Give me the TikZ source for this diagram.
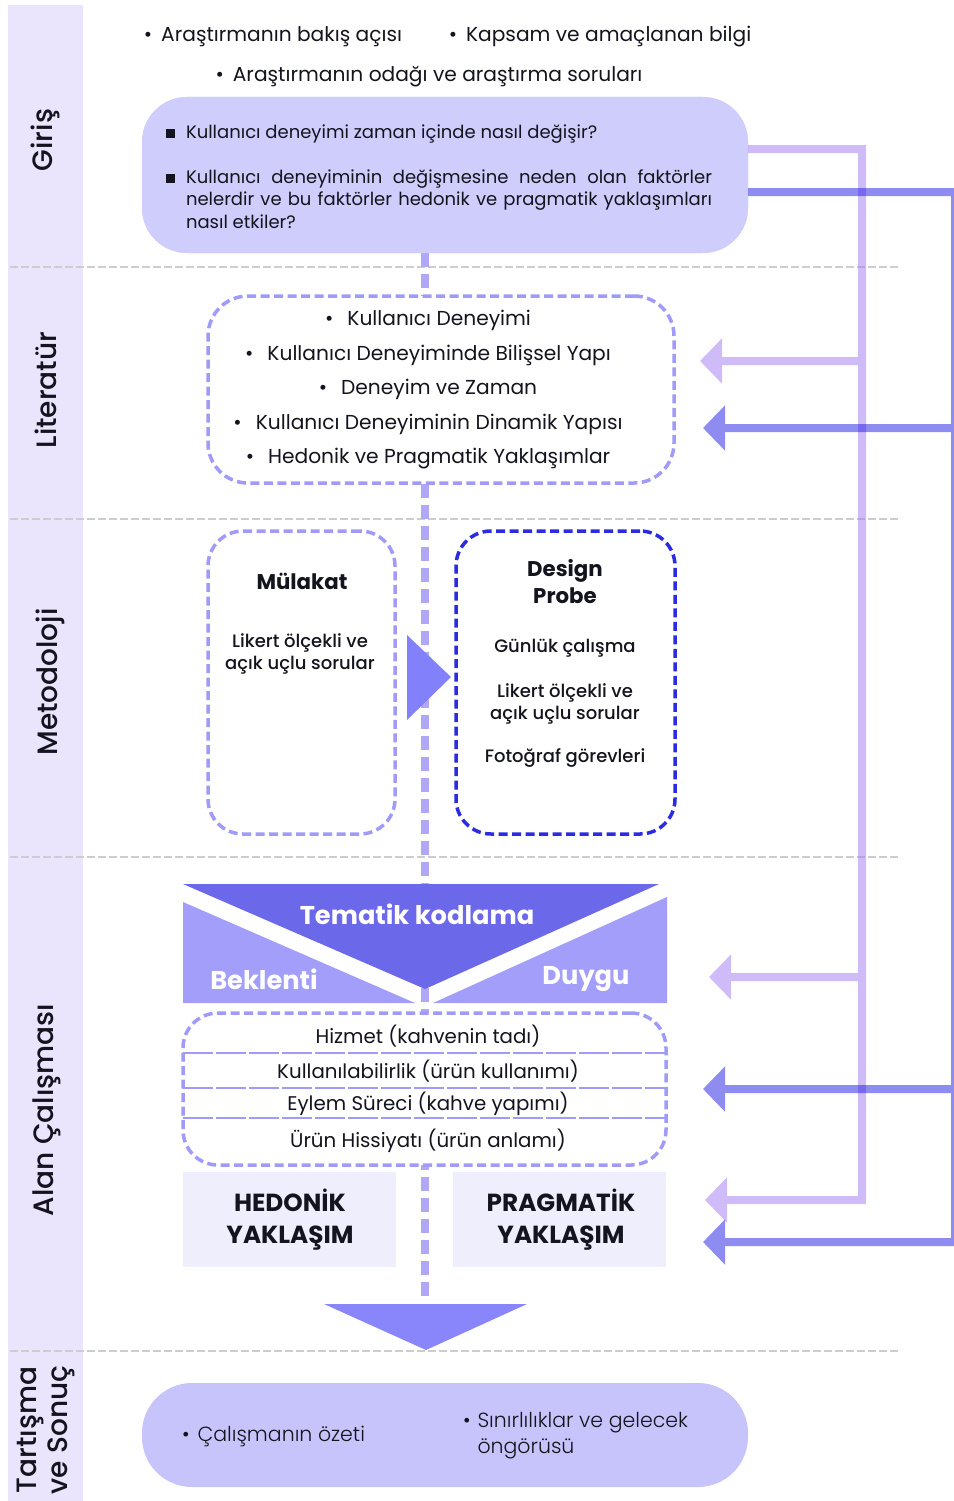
\documentclass[tikz,border=0pt]{standalone}
\usepackage{fontspec}
\setmainfont{Poppins}
\newfontfamily\medfont{Poppins Medium}
\newfontfamily\lightfont{Poppins Light}
\usetikzlibrary{arrows.meta}

\definecolor{ink}{RGB}{20,20,30}
\definecolor{strip}{RGB}{234,228,253}
\definecolor{sepgray}{RGB}{205,205,205}
\definecolor{qbox}{RGB}{206,205,251}
\definecolor{endbox}{RGB}{198,196,250}
\definecolor{dashlav}{RGB}{160,154,248}
\definecolor{dashblue}{RGB}{43,43,225}
\definecolor{spinec}{RGB}{176,168,247}
\definecolor{tridark}{RGB}{108,104,234}
\definecolor{trilight}{RGB}{162,158,250}
\definecolor{playtri}{RGB}{130,128,250}
\definecolor{downtri}{RGB}{137,133,250}
\definecolor{approach}{RGB}{239,238,252}
\definecolor{fbviolet}{RGB}{160,120,240}
\definecolor{fbblue}{RGB}{30,25,225}

\newcommand{\fsz}[2]{\fontsize{#1}{#2}\selectfont}

\begin{document}
\begin{tikzpicture}[x=1pt,y=-1pt,
  every node/.style={inner sep=0pt, outer sep=0pt, text=ink},
  sidelabel/.style={rotate=90, font=\medfont\fsz{28}{31}, align=center},
  toptext/.style={font=\fsz{20.2}{24}},
  qtext/.style={font=\fsz{18}{22.5}},
  littext/.style={font=\fsz{20.2}{34.5}, align=center},
  headtext/.style={font=\bfseries\fsz{21.3}{27}, align=center},
  bodytext/.style={font=\medfont\fsz{18}{22}, align=center},
  whitehead/.style={font=\bfseries\fsz{25.7}{30}, text=white},
  itemtext/.style={font=\fsz{19.8}{22}},
  apptext/.style={font=\bfseries\fsz{24.7}{32}, align=center},
  endtext/.style={font=\lightfont\fsz{20.5}{26}},
  qbubble/.style={fill=qbox, rounded corners=45pt},
  dashbox/.style={draw=dashlav, line width=3.5pt, dash pattern=on 9pt off 4.5pt, fill=white},
  probebox/.style={dashbox, draw=dashblue},
  appbox/.style={fill=approach},
  separator/.style={draw=sepgray, line width=2pt, dash pattern=on 8pt off 3pt},
  spine/.style={draw=spinec, line width=8pt, dash pattern=on 14pt off 7pt},
  divider/.style={draw=dashlav, line width=1.5pt, dash pattern=on 30pt off 3pt},
  fbl/.style={draw=fbviolet, line width=8pt},
  fbd/.style={draw=fbblue, line width=8pt},
  fbtip/.style={-{Triangle[length=22pt,width=44pt]}}
]
\path[use as bounding box] (0,0) rectangle (953,1501);

% section strip on the left
\fill[strip] (8,5) rectangle (83,1501);

% section separators
\foreach \yy in {267,519,857,1351}
  \draw[separator] (10,\yy) -- (900,\yy);

% section titles
\node[sidelabel] (lgiris) at (45,140) {Giriş};
\node[sidelabel] (llit) at (46,390) {Literatür};
\node[sidelabel] (lmet) at (50,682) {Metodoloji};
\node[sidelabel] (lalan) at (47,1110) {Alan Çalışması};
\node[sidelabel] (lson) at (46,1430) {Tartışma\\ve Sonuç};

% introduction bullets
\node[toptext] (b1) at (273,37) {\textbullet\hspace{9pt}Araştırmanın bakış açısı};
\node[toptext] (b2) at (600,37) {\textbullet\hspace{9pt}Kapsam ve amaçlanan bilgi};
\node[toptext] (b3) at (429,77) {\textbullet\hspace{9pt}Araştırmanın odağı ve araştırma soruları};

% central spine
\coordinate (spineend) at (425,1298);
\node[qbubble, minimum width=606pt, minimum height=156pt] (giris) at (445,175) {};
\draw[spine] (giris.south -| spineend) -- (spineend);
\fill[qbox, rounded corners=45pt] (142,97) rectangle (748,253);

% research questions
\node[qtext, anchor=west] (q1) at (166,134)
  {\rule{9pt}{9pt}\hspace{11pt}Kullanıcı deneyimi zaman içinde nasıl değişir?};
\node[qtext, anchor=west] (q2a) at (166,179)
  {\rule{9pt}{9pt}\hspace{11pt}\makebox[526pt][s]{Kullanıcı deneyiminin değişmesine neden olan faktörler}};
\node[qtext, anchor=west] (q2b) at (186,201)
  {\makebox[526pt][s]{nelerdir ve bu faktörler hedonik ve pragmatik yaklaşımları}};
\node[qtext, anchor=west] (q2c) at (186,222) {nasıl etkiler?};

% literature
\node[dashbox, rounded corners=40pt, minimum width=466pt, minimum height=187pt] (lit) at (441,389.5) {};
\node[littext] (littx) at (428,390)
  {\textbullet\hspace{14pt}Kullanıcı Deneyimi\\
   \textbullet\hspace{14pt}Kullanıcı Deneyiminde Bilişsel Yapı\\
   \textbullet\hspace{14pt}Deneyim ve Zaman\\
   \textbullet\hspace{14pt}Kullanıcı Deneyiminin Dinamik Yapısı\\
   \textbullet\hspace{14pt}Hedonik ve Pragmatik Yaklaşımlar};

% methodology
\node[dashbox, rounded corners=35pt, minimum width=187pt, minimum height=303pt] (mul) at (301.5,682.5) {};
\node[probebox, rounded corners=35pt, minimum width=219pt, minimum height=303pt] (probe) at (565.5,682.5) {};
\node[headtext] (mulh) at (302,581) {Mülakat};
\node[bodytext] (mulb) at (300,654) {Likert ölçekli ve\\açık uçlu sorular};
\node[headtext] (probeh) at (565,582) {Design\\Probe};
\node[bodytext] (pb1) at (565,648) {Günlük çalışma};
\node[bodytext] (pb2) at (565,704) {Likert ölçekli ve\\açık uçlu sorular};
\node[bodytext] (pb3) at (565,758) {Fotoğraf görevleri};
\fill[playtri] (407,635) -- (451,677) -- (407,720) -- cycle;

% thematic coding funnel
\fill[trilight] (183,902) -- (415,1003) -- (183,1003) -- cycle;
\fill[trilight] (667,897) -- (667,1003) -- (433,1003) -- cycle;
\fill[tridark] (183,884) -- (659,884) -- (425,989) -- cycle;
\node[whitehead] (tema) at (417,914) {Tematik kodlama};
\node[whitehead] (bek) at (264,979) {Beklenti};
\node[whitehead] (duy) at (586,979) {Duygu};

% coding categories
\node[dashbox, rounded corners=35pt, minimum width=483pt, minimum height=152pt] (items) at (424.5,1089) {};
\foreach \yy in {1053,1088,1118}
  \draw[divider] (items.west |- 0,\yy) -- (items.east |- 0,\yy);
\node[itemtext] (it1) at (428,1036) {Hizmet (kahvenin tadı)};
\node[itemtext] (it2) at (428,1071) {Kullanılabilirlik (ürün kullanımı)};
\node[itemtext] (it3) at (428,1104) {Eylem Süreci (kahve yapımı)};
\node[itemtext] (it4) at (428,1141) {Ürün Hissiyatı (ürün anlamı)};

% approaches
\node[appbox, minimum width=213pt, minimum height=95pt] (hed) at (289.5,1219.5) {};
\node[appbox, minimum width=213pt, minimum height=95pt] (prag) at (559.5,1219.5) {};
\node[apptext] (hedt) at (290,1220) {HEDONİK\\YAKLAŞIM};
\node[apptext] (pragt) at (561,1220) {PRAGMATİK\\YAKLAŞIM};
\fill[downtri] (324,1304) -- (527,1304) -- (426,1350) -- cycle;

% discussion and conclusion
\node[fill=endbox, rounded corners=50pt, minimum width=606pt, minimum height=104pt] (son) at (445,1435) {};
\node[endtext, anchor=west] (s1) at (182,1436) {\textbullet\hspace{8pt}Çalışmanın özeti};
\node[endtext, anchor=west] (s2) at (463,1435)
  {\begin{tabular}{@{}l@{\hspace{7pt}}l@{}}\textbullet & Sınırlılıklar ve gelecek\\ & öngörüsü\end{tabular}};

% feedback connectors
\coordinate (tl1) at (700,361);
\coordinate (tl2) at (709,977);
\coordinate (tl3) at (705,1200);
\coordinate (td1) at (703,428);
\coordinate (td2) at (703,1089);
\coordinate (td3) at (703,1242);
\begin{scope}[transparency group, opacity=0.5]
  \draw[fbl, fbtip] ([yshift=26pt]giris.east) -- (862,149) -- (862,1200) -- (tl3);
  \draw[fbl, fbtip] (862,361) -- (tl1);
  \draw[fbl, fbtip] (862,977) -- (tl2);
\end{scope}
\begin{scope}[transparency group, opacity=0.5]
  \draw[fbd, fbtip] ([yshift=-17pt]giris.east) -- (955,192) -- (955,1242) -- (td3);
  \draw[fbd, fbtip] (955,428) -- (td1);
  \draw[fbd, fbtip] (955,1089) -- (td2);
\end{scope}
\end{tikzpicture}
\end{document}
